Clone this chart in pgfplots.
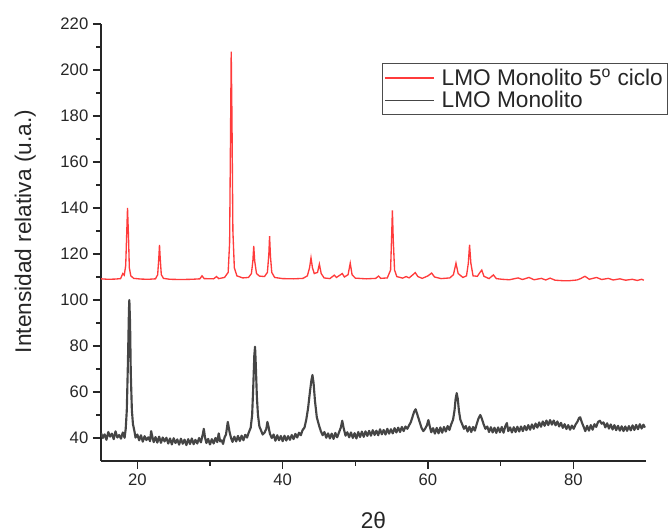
\documentclass[border=0pt]{standalone}
\usepackage{fontspec}
\setmainfont{Liberation Sans}
\usepackage{pgfplots}
\pgfplotsset{compat=1.18}
\definecolor{redline}{HTML}{FF3B3B}
\definecolor{grayline}{HTML}{454545}
\begin{document}
\begin{tikzpicture}
\useasboundingbox (-75.75pt,-52.5pt) rectangle (425.25pt,345.75pt);
\begin{axis}[
  scale only axis,
  width=408.75pt, height=327.75pt,
  xmin=15, xmax=90, ymin=30, ymax=220,
  axis x line*=bottom, axis y line*=left,
  axis line style={line width=1.3pt, black!85},
  xtick={20,40,60,80}, ytick={40,60,...,220},
  minor x tick num=1, minor y tick num=1,
  tick align=outside,
  major tick length=6pt, minor tick length=3.5pt,
  every tick/.style={line width=1.1pt, black!85},
  /pgf/number format/assume math mode=true,
  tick label style={font=\fontsize{12.5}{14}\selectfont, text=black!85},
  every axis x label/.style={at={(axis description cs:0.5,-0.135)},anchor=center},
  every axis y label/.style={at={(axis description cs:-0.139,0.525)},rotate=90,anchor=center},
  label style={font=\fontsize{17}{20}\selectfont, text=black!85},
  xlabel={2θ},
  ylabel={Intensidad relativa (u.a.)},
  legend style={at={(axis description cs:0.515,0.91)}, anchor=north west,
    draw=black!70, line width=0.8pt, font=\fontsize{17}{20}\selectfont,
    inner sep=1.5pt, row sep=-1pt, cells={anchor=west, text=black!85}},
  legend image code/.code={\draw[#1, line width=1pt] (0.05cm,0cm) -- (1.35cm,0cm); \path (1.45cm,0cm);},
]
\addplot[redline, line width=1pt] table {
15.0 109.2
16.0 109.0
17.0 109.1
17.7 109.3
18.0 111.5
18.2 110.8
18.4 115
18.55 130
18.65 140
18.78 128
18.9 114
19.1 110.5
19.5 109.4
20.5 109.1
21.5 109.0
22.5 109.2
22.8 111
22.95 118
23.05 124
23.15 118
23.3 111
23.6 109.4
24.5 109.0
26.0 108.9
27.5 109.0
28.6 109.2
28.9 110.5
29.2 109.3
30.5 109.2
30.9 110.2
31.2 109.3
32.0 109.8
32.5 112
32.7 125
32.82 170
32.92 208
33.02 180
33.15 130
33.35 114
33.7 110.5
34.5 109.6
35.3 109.8
35.7 111.5
35.9 117
36.02 123.5
36.15 117
36.4 111.5
36.8 110.4
37.5 110.2
37.9 112
38.1 120
38.2 127.8
38.32 119
38.5 112
38.9 109.8
40.0 109.3
41.5 109.2
42.8 109.4
43.4 110.5
43.7 114
43.9 118.3
44.1 114
44.35 111.5
44.8 112
45.05 115.6
45.3 111.5
45.7 109.6
46.5 109.3
47.1 110.8
47.4 109.8
48.2 111.5
48.5 110.0
49.0 111
49.3 116
49.55 111
50.0 109.5
51.5 109.2
52.8 109.4
53.2 110.4
53.5 109.4
54.4 109.6
54.85 113
55.0 128
55.1 139
55.22 126
55.4 113
55.7 110.2
56.5 109.5
57.0 110.2
57.4 109.6
58.0 111.2
58.25 111.9
58.6 110.2
59.2 109.4
60.0 110.5
60.5 111.7
60.9 110.0
61.8 109.3
63.0 109.6
63.5 111
63.85 116
64.15 111.5
64.8 109.8
65.3 110.5
65.55 116
65.72 124
65.9 116
66.2 110.5
66.8 110.3
67.15 112
67.4 113
67.7 110.3
68.4 109.3
69.0 110.9
69.4 109.3
70.2 109.0
71.2 108.8
72.4 109.6
73.0 108.9
73.9 109.8
74.6 108.8
75.6 109.4
76.2 108.7
76.8 109.5
77.5 108.6
78.5 108.4
79.5 108.4
80.5 108.7
81.0 109.3
81.6 110.3
82.2 109.0
83.2 109.8
83.9 108.9
84.8 109.4
85.5 108.7
86.4 109.2
87.2 108.6
88.1 109.0
88.8 108.5
89.4 109.0
89.7 108.6
};
\addlegendentry{LMO Monolito 5\textsuperscript{o} ciclo}
\addplot[grayline, line width=1.6pt, line join=round] table {
15.00 42.2
15.25 40.0
15.50 41.6
15.75 39.2
16.00 42.6
16.25 40.6
16.50 41.9
16.75 39.5
17.00 42.9
17.25 40.2
17.50 41.3
17.75 39.7
18.00 42.4
18.25 40.1
18.40 44
18.55 52
18.70 72
18.85 96
18.90 100
19.00 90
19.10 68
19.25 52
19.40 46
19.60 43
19.75 40.2
20.00 41.5
20.25 39.0
20.50 41.2
20.75 38.4
21.00 40.8
21.25 39.1
21.50 40.3
21.75 38.6
21.90 43.0
22.00 41.5
22.25 38.2
22.50 40.4
22.75 38.0
23.00 40.6
23.25 37.9
23.50 40.2
23.75 38.5
24.00 40.1
24.25 37.6
24.50 39.8
24.75 37.2
25.00 39.9
25.25 37.8
25.50 39.4
25.75 37.1
26.00 39.7
26.25 37.5
26.50 39.3
26.75 36.9
27.00 39.5
27.25 37.4
27.50 39.8
27.75 37.3
28.00 39.2
28.25 37.6
28.50 40.0
28.75 38.1
29.00 41.5
29.15 44.0
29.30 40.5
29.50 37.8
29.75 39.6
30.00 37.2
30.25 39.5
30.50 37.6
30.75 40.0
31.00 38.2
31.20 42.0
31.40 38.5
31.60 39.0
31.80 37.4
32.00 40.2
32.20 41.5
32.45 47.0
32.70 42.5
32.90 40.0
33.10 38.3
33.35 40.6
33.60 38.5
33.85 40.9
34.10 38.7
34.35 41.0
34.60 39.0
34.85 41.4
35.10 40.2
35.35 42.5
35.60 44.5
35.80 50
35.95 62
36.10 76
36.20 79.7
36.30 72
36.45 58
36.60 50
36.80 45
37.00 43.5
37.25 41.5
37.50 42.3
37.75 44.0
37.90 47.0
38.05 45.0
38.25 41.8
38.50 40.0
38.75 41.5
39.00 38.8
39.25 41.2
39.50 39.0
39.75 40.9
40.00 38.6
40.25 41.0
40.50 38.9
40.75 40.8
41.00 39.2
41.25 41.3
41.50 39.5
41.75 41.8
42.00 40.2
42.25 42.3
42.50 41.2
42.75 43.5
43.00 44.5
43.25 48
43.50 53
43.75 60
43.95 65
44.10 67.4
44.25 64
44.45 56
44.70 49
45.00 45.5
45.25 43.0
45.50 41.2
45.75 42.6
46.00 40.1
46.25 42.0
46.50 39.8
46.75 41.9
47.00 39.6
47.25 42.2
47.50 40.3
47.75 42.4
48.00 44.5
48.20 47.5
48.40 44.2
48.65 41.0
48.90 42.5
49.15 40.3
49.40 42.4
49.65 40.0
49.90 42.1
50.15 39.8
50.40 42.6
50.65 40.4
50.90 42.8
51.15 40.5
51.40 42.9
51.65 40.9
51.90 43.1
52.15 41.0
52.40 43.4
52.65 41.3
52.90 43.2
53.15 41.2
53.40 43.8
53.65 41.6
53.90 43.5
54.15 41.5
54.40 44.0
54.65 41.9
54.90 43.8
55.15 42.0
55.40 44.3
55.65 42.4
55.90 44.5
56.15 42.6
56.40 44.8
56.65 43.0
56.90 45.0
57.15 44.0
57.40 45.5
57.65 47.0
57.90 49.5
58.10 51.5
58.30 52.5
58.50 50.5
58.70 48.5
58.90 46.5
59.10 44.5
59.35 43.0
59.60 44.0
59.85 45.5
60.05 47.8
60.25 45.0
60.45 42.5
60.70 44.3
60.95 41.9
61.20 44.4
61.45 42.0
61.70 44.6
61.95 42.3
62.20 44.8
62.45 42.8
62.70 45.2
62.95 43.5
63.20 46.0
63.45 48.0
63.65 52.0
63.80 57.0
63.95 59.5
64.10 57.0
64.25 52.0
64.45 48.0
64.70 46.0
64.95 44.0
65.20 45.2
65.45 42.8
65.70 44.9
65.95 42.6
66.20 44.8
66.45 43.2
66.70 46.0
66.95 48.5
67.20 50.0
67.40 48.5
67.65 46.0
67.90 44.0
68.15 45.0
68.40 42.6
68.65 44.7
68.90 42.4
69.15 44.5
69.40 42.2
69.65 44.6
69.90 42.5
70.15 44.8
70.40 42.3
70.65 45.2
70.85 46.5
71.05 43.0
71.30 44.6
71.55 42.4
71.80 44.7
72.05 42.6
72.30 44.9
72.55 42.8
72.80 45.0
73.05 43.0
73.30 45.2
73.55 43.4
73.80 45.6
74.05 43.6
74.30 45.9
74.55 44.0
74.80 46.3
75.05 44.5
75.30 46.8
75.55 44.9
75.80 47.2
76.05 45.3
76.30 47.6
76.55 45.6
76.80 47.8
77.05 45.8
77.30 47.6
77.55 45.5
77.80 47.2
78.05 45.0
78.30 46.6
78.55 44.4
78.80 46.0
79.05 43.9
79.30 45.6
79.55 43.6
79.80 45.4
80.05 44.0
80.30 45.8
80.55 47.0
80.80 48.8
80.95 49.0
81.15 47.0
81.40 45.0
81.65 43.0
81.90 45.3
82.15 43.2
82.40 45.6
82.65 43.6
82.90 46.0
83.15 44.8
83.40 47.0
83.65 47.5
83.90 46.2
84.15 46.8
84.40 44.6
84.65 46.4
84.90 44.1
85.15 45.9
85.40 43.7
85.65 45.6
85.90 43.4
86.15 45.3
86.40 43.2
86.65 45.1
86.90 43.0
87.15 45.0
87.40 43.1
87.65 45.2
87.90 43.3
88.15 45.5
88.40 43.5
88.65 45.7
88.90 43.8
89.15 46.0
89.40 44.1
89.65 45.8
89.85 44.5
};
\addlegendentry{LMO Monolito}
\end{axis}
\end{tikzpicture}
\end{document}
